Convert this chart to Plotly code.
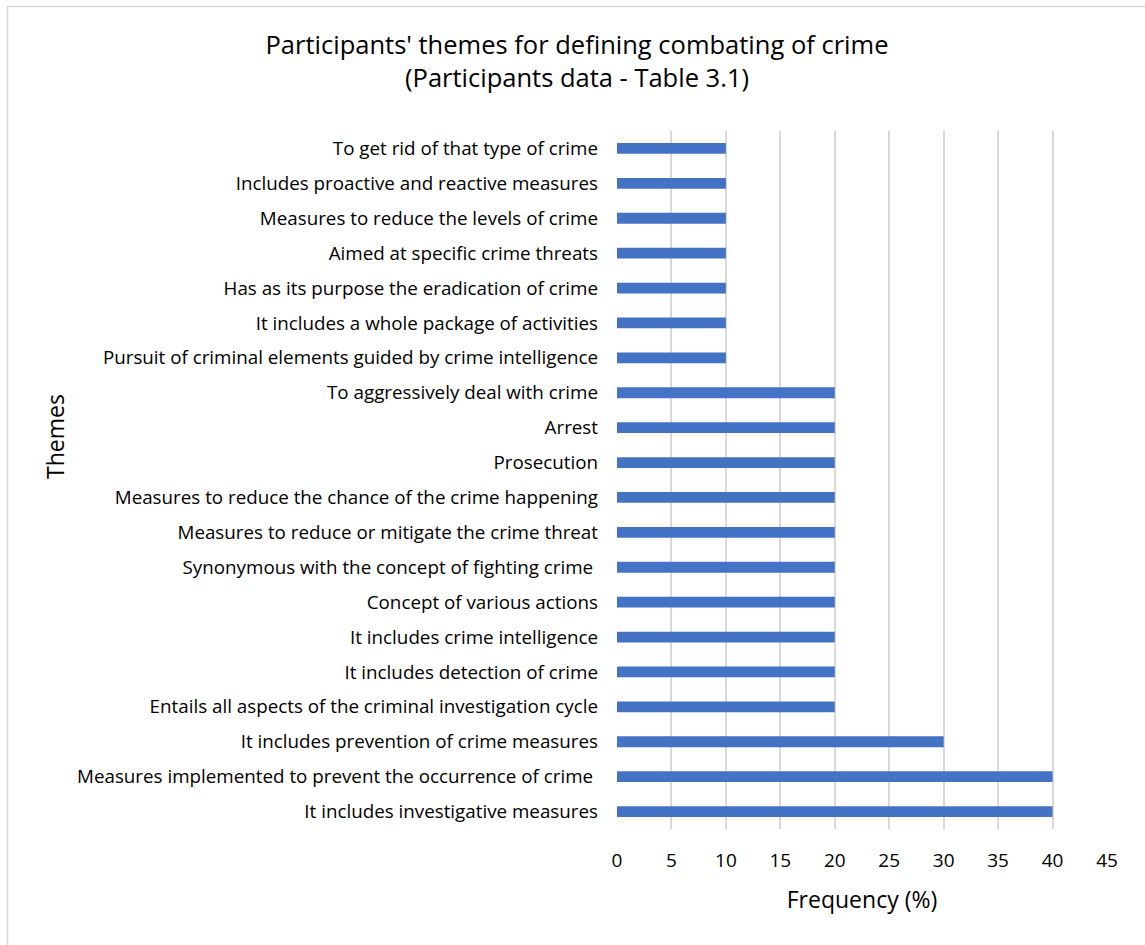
import plotly.graph_objects as go

themes = [
    "To get rid of that type of crime",
    "Includes proactive and reactive measures",
    "Measures to reduce the levels of crime",
    "Aimed at specific crime threats",
    "Has as its purpose the eradication of crime",
    "It includes a whole package of activities",
    "Pursuit of criminal elements guided by crime intelligence",
    "To aggressively deal with crime",
    "Arrest",
    "Prosecution",
    "Measures to reduce the chance of the crime happening",
    "Measures to reduce or mitigate the crime threat",
    "Synonymous with the concept of fighting crime\u00a0",
    "Concept of various actions",
    "It includes crime intelligence",
    "It includes detection of crime",
    "Entails all aspects of the criminal investigation cycle",
    "It includes prevention of crime measures",
    "Measures implemented to prevent the occurrence of crime\u00a0",
    "It includes investigative measures",
]
frequency = [10, 10, 10, 10, 10, 10, 10, 20, 20, 20, 20, 20, 20, 20, 20, 20, 20, 30, 40, 40]
x_ticks = [0, 5, 10, 15, 20, 25, 30, 35, 40, 45]

FONT = "Open Sans"
W, H = 1145, 945
L, R, T, B = 617, 38, 131, 116
pw, ph = W - L - R, H - T - B

fig = go.Figure(go.Bar(
    x=frequency, y=themes, orientation="h",
    marker=dict(color="#4472C4", line=dict(width=0)),
    hoverinfo="x+y",
))

fig.update_layout(
    width=W, height=H,
    margin=dict(l=L, r=R, t=T, b=B),
    paper_bgcolor="white", plot_bgcolor="white",
    bargap=0.69,
    showlegend=False,
    font=dict(family=FONT, size=18, color="#000000"),
    title=dict(
        text="Participants' themes for defining combating of crime<br>(Participants data - Table 3.1)",
        x=577 / W, xanchor="center", xref="container",
        y=1 - 54 / H, yanchor="middle", yref="container",
        font=dict(family=FONT, size=25.5, color="#000000"),
    ),
    xaxis=dict(
        range=[0, 45], tickvals=x_ticks, ticktext=[str(v) for v in x_ticks],
        showgrid=True, gridcolor="#d9d9d9", gridwidth=1.8,
        zeroline=False, showline=False, ticks="",
        ticklabelstandoff=18,
        title=dict(text="Frequency (%)", font=dict(size=23), standoff=19),
        tickfont=dict(size=19),
    ),
    yaxis=dict(
        autorange="reversed", showgrid=False, zeroline=False, showline=False,
        ticks="", ticklabelstandoff=18, tickfont=dict(size=18.8),
    ),
    annotations=[dict(
        text="Themes", textangle=-90,
        x=(55 - L) / pw, y=1 - (437 - T) / ph,
        xref="paper", yref="paper", xanchor="center", yanchor="middle",
        showarrow=False, font=dict(size=23),
    )],
    shapes=[dict(type="rect", xref="paper", yref="paper",
                 x0=(7.5 - L) / pw, x1=(W + 20 - L) / pw,
                 y0=1 - (H + 20 - T) / ph, y1=1 - (6.5 - T) / ph,
                 line=dict(color="#d9d9d9", width=1.5), layer="below")],
)

fig.write_html("out.html", config={"displayModeBar": False},
               post_script="document.body.style.margin='0';")
